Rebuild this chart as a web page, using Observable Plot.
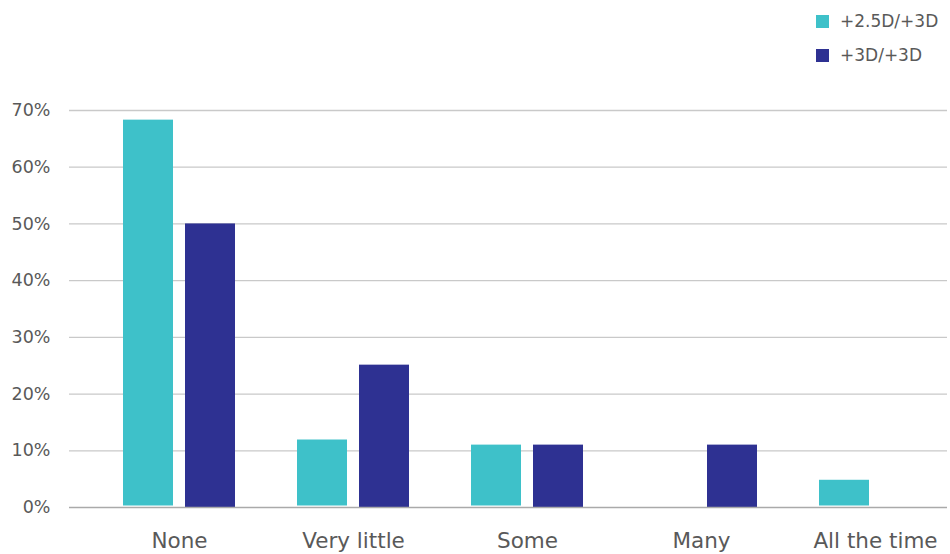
<!DOCTYPE html>
<html>
<head>
<meta charset="utf-8">
<script src="https://cdn.jsdelivr.net/npm/d3@7"></script>
<script src="https://cdn.jsdelivr.net/npm/@observablehq/plot@0.6"></script>
<style>
  html, body { margin: 0; padding: 0; background: #fff; }
  #wrap { position: relative; width: 950px; height: 554px; overflow: hidden; font-family: "DejaVu Sans", sans-serif; }
  #legend { position: absolute; left: 816px; top: 10px; color: #595959; font-size: 17px; }
  .item { display: flex; align-items: center; height: 22px; margin-bottom: 12px; white-space: nowrap; }
  .sw { width: 13px; height: 13px; margin-right: 11px; flex: none; }
</style>
</head>
<body>
<div id="wrap"><div id="legend"></div></div>
<script>
const categories = ["None", "Very little", "Some", "Many", "All the time"];
const series = ["+2.5D/+3D", "+3D/+3D"];
const values25 = [0.683, 0.119, 0.110, 0.000, 0.048];
const values3 = [0.500, 0.251, 0.110, 0.110, 0.000];
const yTicks = [0, 0.1, 0.2, 0.3, 0.4, 0.5, 0.6, 0.7];
const colors = ["#3EC1C9", "#2E3192"];

const rows = categories.flatMap((c, i) => [
  {category: c, series: series[0], value: values25[i]},
  {category: c, series: series[1], value: values3[i]}
]);

const chart = Plot.plot({
  width: 950,
  height: 554,
  marginLeft: 69,
  marginRight: 3,
  marginTop: 110,
  marginBottom: 47,
  style: {fontFamily: "DejaVu Sans, sans-serif", background: "transparent", color: "#595959"},
  x: {domain: categories, paddingInner: 0.358, paddingOuter: 0.196, align: 0.77},
  y: {domain: [0, 0.7]},
  color: {domain: series, range: colors},
  marks: [
    Plot.ruleY(yTicks.filter(d => d > 0), {stroke: "#c9c9c9", strokeWidth: 1.3}),
    Plot.barY(rows.filter(d => d.series === series[0]), {x: "category", y: "value", fill: "series", insetRight: 62, insetBottom: 1.5}),
    Plot.barY(rows.filter(d => d.series === series[1]), {x: "category", y: "value", fill: "series", insetLeft: 62}),
    Plot.ruleY([0], {stroke: "#aaaaaa", strokeWidth: 1.3}),
    Plot.axisY({ticks: yTicks, tickFormat: d => Math.round(d * 100) + "%", tickSize: 0, tickPadding: 19, fontSize: 17.5, fill: "#595959", label: null}),
    Plot.axisX({tickSize: 0, tickPadding: 25, fontSize: 21.5, fill: "#595959", label: null})
  ]
});
chart.style.position = "absolute";
chart.style.left = "0px";
chart.style.top = "0px";
document.getElementById("wrap").prepend(chart);

const legend = document.getElementById("legend");
series.forEach((s, i) => {
  const it = document.createElement("div");
  it.className = "item";
  const sw = document.createElement("span");
  sw.className = "sw";
  sw.style.background = colors[i];
  const tx = document.createElement("span");
  tx.textContent = s;
  it.appendChild(sw);
  it.appendChild(tx);
  legend.appendChild(it);
});
</script>
</body>
</html>
